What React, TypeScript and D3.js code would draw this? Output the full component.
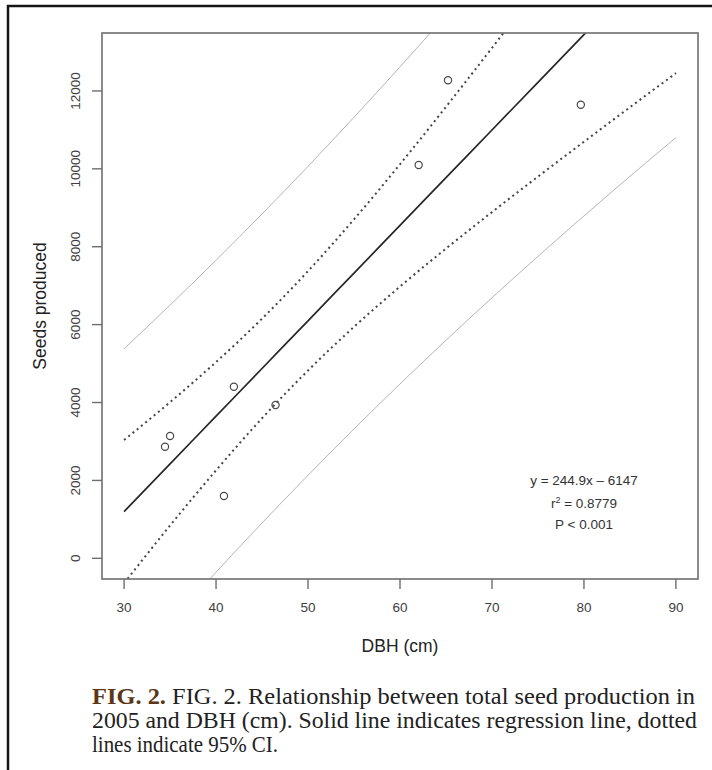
import * as d3 from "d3";

const W = 712;
const H = 770;
// plot box in page pixels
const P = { left: 102, top: 33, right: 698, bottom: 579 };

// observed trees
const dbh = [34.45, 35.0, 40.86, 41.94, 46.47, 62.03, 65.22, 79.66];
const seeds = [2865, 3140, 1600, 4406, 3936, 10098, 12272, 11646];

// curves at these DBH values
const bandX = [30, 35, 40, 45, 50, 55, 60, 65, 70, 75, 80, 85, 90];
const fitY = [1200, 2425, 3649, 4874, 6098, 7323, 8547, 9772, 10996, 12221, 13445, 14670, 15894];
const ciUpper = [3037, 4009, 5039, 6153, 7374, 8703, 10117, 11592, 13104, 14642, 16195, 17760, 19332];
const ciLower = [-637, 841, 2259, 3595, 4822, 5943, 6977, 7952, 8888, 9800, 10695, 11580, 12456];
const piUpper = [5381, 6501, 7653, 8841, 10064, 11324, 12617, 13945, 15303, 16689, 18100, 19533, 20986];
const piLower = [-2981, -1652, -355, 907, 2132, 3322, 4477, 5599, 6689, 7753, 8790, 9807, 10802];

const xTicks = [30, 40, 50, 60, 70, 80, 90];
const yTicks = [0, 2000, 4000, 6000, 8000, 10000, 12000];
const statLines = ["y = 244.9x \u2013 6147", "P < 0.001"];

const SANS = "'Liberation Sans', Arial, Helvetica, sans-serif";
const SERIF = "'Liberation Serif', 'Times New Roman', serif";

export default function App() {
  const x = d3.scaleLinear().domain([27.6, 92.4]).range([P.left, P.right]);
  const y = d3.scaleLinear().domain([-531, 13487]).range([P.bottom, P.top]);

  const line = (vals: number[]) =>
    d3
      .line<number>()
      .x((_, i) => x(bandX[i]))
      .y((v) => y(v))
      .curve(d3.curveMonotoneX)(vals) ?? "";

  const axisColor = "#6e6e6e";
  const tickText = "#404040";

  return (
    <svg
      width={W}
      height={H}
      viewBox={`0 0 ${W} ${H}`}
      style={{ position: "absolute", left: 0, top: 0, background: "#fff" }}
    >
      <defs>
        <clipPath id="plotClip">
          <rect x={P.left} y={P.top} width={P.right - P.left} height={P.bottom - P.top} />
        </clipPath>
      </defs>

      {/* outer frame */}
      <rect x={8} y={6} width={800} height={800} fill="none" stroke="#151515" strokeWidth={2.5} />

      {/* bands and fit */}
      <g clipPath="url(#plotClip)" fill="none">
        <path d={line(piUpper)} stroke="#b5b5b5" strokeWidth={1} />
        <path d={line(piLower)} stroke="#b5b5b5" strokeWidth={1} />
        <path d={line(ciUpper)} stroke="#444" strokeWidth={2} strokeDasharray="2 3.5" />
        <path d={line(ciLower)} stroke="#444" strokeWidth={2} strokeDasharray="2 3.5" />
        <path d={line(fitY)} stroke="#262626" strokeWidth={1.7} />
      </g>

      {/* points */}
      {dbh.map((d, i) => (
        <circle
          key={i}
          cx={x(d)}
          cy={y(seeds[i])}
          r={3.6}
          fill="none"
          stroke="#484848"
          strokeWidth={1.2}
        />
      ))}

      {/* box */}
      <rect
        x={P.left}
        y={P.top}
        width={P.right - P.left}
        height={P.bottom - P.top}
        fill="none"
        stroke={axisColor}
        strokeWidth={1.6}
      />

      {/* x axis */}
      {xTicks.map((t) => (
        <g key={`x${t}`}>
          <line x1={x(t)} x2={x(t)} y1={P.bottom} y2={P.bottom + 10} stroke={axisColor} strokeWidth={1.4} />
          <text
            x={x(t)}
            y={P.bottom + 33}
            textAnchor="middle"
            fontFamily={SANS}
            fontSize={13.5}
            fill={tickText}
          >
            {t}
          </text>
        </g>
      ))}
      <text
        x={(P.left + P.right) / 2}
        y={652}
        textAnchor="middle"
        fontFamily={SANS}
        fontSize={17.5}
        fill="#222"
      >
        DBH (cm)
      </text>

      {/* y axis */}
      {yTicks.map((t) => (
        <g key={`y${t}`}>
          <line x1={P.left - 10} x2={P.left} y1={y(t)} y2={y(t)} stroke={axisColor} strokeWidth={1.4} />
          <text
            transform={`translate(${P.left - 22},${y(t)}) rotate(-90)`}
            textAnchor="middle"
            fontFamily={SANS}
            fontSize={13.5}
            fill={tickText}
          >
            {t}
          </text>
        </g>
      ))}
      <text
        transform={`translate(46,${(P.top + P.bottom) / 2}) rotate(-90)`}
        textAnchor="middle"
        fontFamily={SANS}
        fontSize={17.5}
        fill="#222"
      >
        Seeds produced
      </text>

      {/* regression stats */}
      <g fontFamily={SANS} fontSize={13.5} fill="#333" textAnchor="middle">
        <text x={584} y={485}>{statLines[0]}</text>
        <text x={584} y={508}>
          r<tspan dy={-5} fontSize={9}>2</tspan>
          <tspan dy={5}> = 0.8779</tspan>
        </text>
        <text x={584} y={529}>{statLines[1]}</text>
      </g>

      {/* caption */}
      <g fontFamily={SERIF} fontSize={22.5} fill="#222">
        <text x={92} y={704} textLength={603} lengthAdjust="spacingAndGlyphs">
          <tspan fontWeight={700} fill="#5b3716">FIG. 2.</tspan> FIG. 2. Relationship between total seed production in
        </text>
        <text x={92} y={728} textLength={605} lengthAdjust="spacingAndGlyphs">
          2005 and DBH (cm). Solid line indicates regression line, dotted
        </text>
        <text x={92} y={752} textLength={186} lengthAdjust="spacingAndGlyphs">
          lines indicate 95% CI.
        </text>
      </g>
    </svg>
  );
}
